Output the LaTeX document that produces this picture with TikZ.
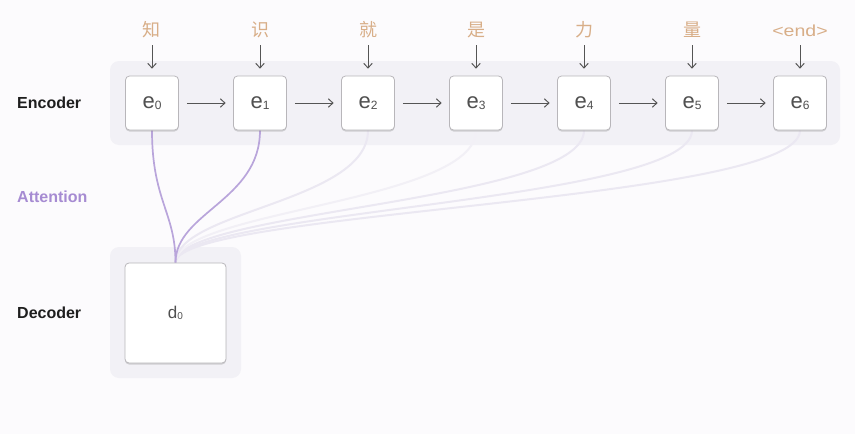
\documentclass[tikz,border=0pt]{standalone}
\usepackage{fontspec}
\setmainfont{Liberation Sans}
\newfontfamily\cjk{Noto Sans CJK SC}
\usetikzlibrary{arrows.meta,shadows}
\definecolor{bgc}{HTML}{FCFBFD}
\definecolor{bandc}{HTML}{F2F1F6}
\definecolor{boxborder}{HTML}{B8B6BA}
\definecolor{boxtext}{HTML}{505050}
\definecolor{arrc}{HTML}{555555}
\definecolor{tokc}{HTML}{D8AE88}
\definecolor{attnc}{HTML}{A68BD2}
\definecolor{strongc}{HTML}{B9A5DB}
\definecolor{weakc}{HTML}{EBE8F2}
\definecolor{faintc}{HTML}{F2F0F6}
\definecolor{labc}{HTML}{1E1E1E}
\pgfdeclarelayer{bglayer}
\pgfdeclarelayer{midlayer}
\pgfsetlayers{bglayer,midlayer,main}
\newcommand{\encsub}[1]{e\raisebox{-0.5pt}{\fontsize{12}{12}\selectfont #1}}
\tikzset{
  encbox/.style={draw=boxborder, fill=white, rounded corners=4pt, line width=0.8pt,
    minimum width=53pt, minimum height=54pt, inner sep=0pt, text=boxtext,
    font=\fontsize{22}{22}\selectfont,
    drop shadow={shadow xshift=0pt, shadow yshift=-1.5pt, opacity=0.3, fill=black!50}},
  decbox/.style={encbox, minimum width=101pt, minimum height=100pt, font=\fontsize{17}{17}\selectfont},
  tok/.style={inner sep=0pt, text=tokc, text height=14pt, text depth=2pt},
  arr/.style={draw=arrc, line width=1pt, -{Straight Barb[length=4.5pt,width=8.5pt,line width=1pt]}},
  sidelab/.style={anchor=west, inner sep=0pt, font=\fontsize{16}{16}\selectfont\bfseries, text=labc},
  band/.style={fill=bandc, rounded corners=9pt},
  strong/.style={draw=strongc, line width=1.7pt},
  weak/.style={draw=weakc, line width=2pt},
  faint/.style={draw=faintc, line width=2pt}
}
\begin{document}
\begin{tikzpicture}[x=1pt,y=-1pt]
\begin{pgfonlayer}{bglayer}
\fill[bgc] (0,0) rectangle (855,434);
\fill[band] (110,61) rectangle (840,145);
\fill[band] (110,247) rectangle (241,378);
\end{pgfonlayer}
\useasboundingbox (0,0) rectangle (855,434);

\node[sidelab] (lenc) at (17,103) {Encoder};
\node[sidelab, text=attnc] (latt) at (17,197) {Attention};
\node[sidelab] (ldec) at (17,313) {Decoder};

\node[encbox] (e0) at (152,103) {\encsub{0}};
\node[encbox] (e1) at (260,103) {\encsub{1}};
\node[encbox] (e2) at (368,103) {\encsub{2}};
\node[encbox] (e3) at (476,103) {\encsub{3}};
\node[encbox] (e4) at (584,103) {\encsub{4}};
\node[encbox] (e5) at (692,103) {\encsub{5}};
\node[encbox] (e6) at (800,103) {\encsub{6}};

\node[decbox] (d0) at (175.5,313) {d\raisebox{-0.5pt}{\fontsize{10}{10}\selectfont 0}};

\node[tok, font=\fontsize{18}{18}\selectfont\cjk] (t0) at (151,30) {知};
\node[tok, font=\fontsize{18}{18}\selectfont\cjk] (t1) at (260,30) {识};
\node[tok, font=\fontsize{18}{18}\selectfont\cjk] (t2) at (368,30) {就};
\node[tok, font=\fontsize{18}{18}\selectfont\cjk] (t3) at (476,30) {是};
\node[tok, font=\fontsize{18}{18}\selectfont\cjk] (t4) at (584,30) {力};
\node[tok, font=\fontsize{18}{18}\selectfont\cjk] (t5) at (692,30) {量};
\node[tok, font=\fontsize{16}{16}\selectfont] (t6) at (800,30) {\scalebox{1.22}[1]{<end>}};

\foreach \i in {0,...,6}{
  \draw[arr, shorten <=7pt, shorten >=7pt] (t\i.south -| e\i.north) -- (e\i.north);
}
\foreach \a/\b in {0/1,1/2,2/3,3/4,4/5,5/6}{
  \draw[arr, shorten <=8pt, shorten >=7.5pt] (e\a.east) -- (e\b.west);
}

\begin{pgfonlayer}{midlayer}
\draw[weak] (e6.south) .. controls +(0,72) and +(0,-52) .. (d0.north);
\draw[weak] (e5.south) .. controls +(0,72) and +(0,-52) .. (d0.north);
\draw[weak] (e4.south) .. controls +(0,72) and +(0,-52) .. (d0.north);
\draw[faint] (e3.south) .. controls +(0,72) and +(0,-52) .. (d0.north);
\draw[weak] (e2.south) .. controls +(0,72) and +(0,-52) .. (d0.north);
\draw[strong] (e1.south) .. controls +(0,70) and +(0,-50) .. (d0.north);
\draw[strong] (e0.south) .. controls +(0,70) and +(0,-50) .. (d0.north);
\end{pgfonlayer}
\end{tikzpicture}
\end{document}
